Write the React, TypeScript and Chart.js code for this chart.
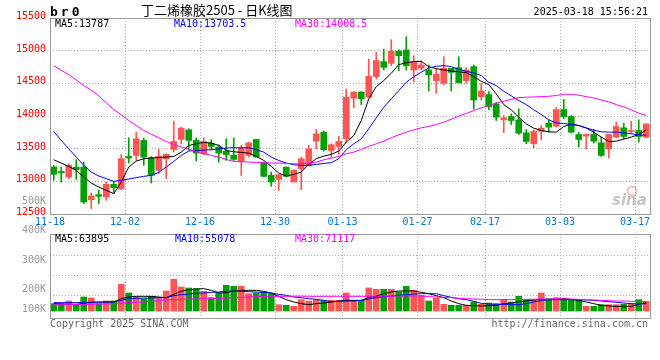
import React, { useEffect, useRef } from 'react';
import { Chart, registerables } from 'chart.js';

Chart.register(...registerables);

const dates = [
  '11-18','11-19','11-20','11-21','11-22','11-25','11-26','11-27','11-28','11-29',
  '12-02','12-03','12-04','12-05','12-06','12-09','12-10','12-11','12-12','12-13',
  '12-16','12-17','12-18','12-19','12-20','12-23','12-24','12-25','12-26','12-27',
  '12-30','12-31','01-02','01-03','01-06','01-07','01-08','01-09','01-10',
  '01-13','01-14','01-15','01-16','01-17','01-20','01-21','01-22','01-23','01-24',
  '01-27','02-05','02-06','02-07','02-10','02-11','02-12','02-13','02-14',
  '02-17','02-18','02-19','02-20','02-21','02-24','02-25','02-26','02-27','02-28',
  '03-03','03-04','03-05','03-06','03-07','03-10','03-11','03-12','03-13','03-14',
  '03-17','03-18'
];

const xTickLabels = ['11-18','12-02','12-16','12-30','01-13','01-27','02-17','03-03','03-17'];

const opens = [
  13219,13150,13066,13218,13218,12720,12796,12760,12954,12888,
  13381,13397,13626,13361,13168,13346,13488,13641,13788,13626,
  13422,13585,13524,13463,13397,13305,13397,13641,13280,13091,
  13030,13218,12990,13193,13244,13615,13753,13473,13534,13651,
  14272,14364,14287,14603,14832,14806,14995,15010,14704,14730,
  14704,14540,14500,14730,14740,14540,14755,14296,14328,14185,
  13941,13992,13941,13743,13575,13763,13890,13844,14099,13992,
  13717,13692,13717,13590,13498,13676,13819,13763,13778,13676
];
const highs = [
  13244,13218,13270,13330,13295,12822,12862,12990,12990,13412,
  13666,13753,13661,13381,13488,13422,13921,13829,13804,13666,
  13666,13636,13560,13651,13666,13550,13590,13641,13295,13142,
  13101,13218,13178,13371,13550,13794,13768,13575,13687,14414,
  14374,14374,14872,14974,15025,15168,15015,15214,14923,14842,
  14780,14730,14908,14730,14908,14740,14781,14500,14374,14211,
  14007,14033,14109,13794,13789,13855,13941,14134,14252,14007,
  13753,13727,13794,13676,13717,13905,13890,13921,13941,13880
];
const lows = [
  13015,12990,13040,13030,12659,12582,12659,12710,12812,12872,
  13280,13320,13244,12974,13117,13040,13448,13575,13473,13310,
  13412,13483,13295,13320,13320,13091,13371,13371,13066,12923,
  12862,13066,12990,12872,13244,13498,13463,13371,13412,13600,
  14124,14175,14287,14567,14705,14771,14694,14704,14525,14704,
  14383,14347,14474,14383,14510,14500,14107,14245,14094,13931,
  13743,13870,13717,13575,13509,13636,13753,13829,13956,13738,
  13524,13498,13585,13381,13356,13666,13651,13738,13600,13666
];
const closes = [
  13107,13130,13244,13178,12684,12776,12771,12954,12903,13346,
  13356,13651,13371,13091,13381,13412,13610,13814,13626,13432,
  13610,13534,13432,13407,13336,13514,13590,13371,13076,12990,
  13101,13076,13168,13346,13498,13727,13483,13560,13610,14287,
  14364,14262,14608,14847,14745,14989,14923,14770,14831,14780,
  14628,14638,14730,14668,14510,14704,14245,14383,14145,13982,
  13972,13931,13738,13610,13763,13814,13829,14099,13992,13753,
  13641,13717,13615,13397,13717,13839,13687,13778,13687,13880
];

const ma5 = [
  13330,13280,13229,13168,13066,12974,12913,12862,12811,12990,
  13219,13310,13346,13356,13366,13371,13381,13447,13549,13575,
  13595,13585,13549,13473,13453,13442,13432,13381,13320,13229,
  13127,13081,13107,13142,13259,13346,13386,13412,13463,13600,
  13702,13931,14262,14450,14542,14654,14786,14816,14832,14837,
  14755,14725,14704,14689,14674,14664,14603,14531,14481,14338,
  14175,14094,13982,13880,13814,13778,13758,13753,13839,13875,
  13855,13814,13753,13677,13610,13615,13646,13677,13717,13787
];
const ma10 = [
  13763,13626,13498,13371,13244,13142,13081,13040,13000,13015,
  13035,13056,13076,13091,13137,13219,13305,13397,13463,13473,
  13478,13483,13498,13509,13514,13514,13514,13483,13447,13371,
  13320,13280,13254,13244,13244,13259,13274,13285,13346,13483,
  13575,13651,13804,13972,14134,14262,14389,14516,14603,14669,
  14735,14761,14771,14755,14715,14684,14659,14618,14516,14465,
  14379,14308,14236,14175,14094,14023,13941,13895,13885,13870,
  13855,13819,13783,13758,13753,13753,13743,13727,13712,13703.5
];
const ma30 = [
  14771,14699,14633,14552,14465,14394,14308,14201,14099,14017,
  13931,13855,13778,13722,13666,13610,13565,13524,13493,13453,
  13422,13397,13371,13336,13305,13300,13295,13290,13285,13280,
  13280,13274,13269,13269,13280,13295,13330,13356,13381,13422,
  13447,13488,13534,13575,13615,13666,13712,13753,13788,13819,
  13839,13870,13905,13951,13997,14038,14084,14124,14160,14196,
  14226,14257,14282,14287,14292,14297,14302,14313,14333,14333,
  14318,14297,14277,14246,14216,14175,14140,14094,14043,14008.5
];

const volumes = [
  55000,55000,75000,47500,105000,97500,55000,75000,75000,200000,
  135000,105000,92500,110000,100000,150000,237500,180000,172500,167500,
  147500,100000,135000,192500,185000,185000,130000,135000,142500,130000,
  47500,42500,35000,85000,75000,85000,80000,80000,80000,135000,
  80000,80000,172500,162500,162500,162500,142500,185000,155000,117500,
  75000,97500,50000,42500,42500,42500,67500,50000,60000,55000,
  85000,67500,110000,85000,85000,135000,92500,100000,92500,85000,
  85000,35000,35000,47500,47500,47500,50000,55000,85000,72500
];
const volMa5 = [
  55000,52500,50000,50000,57500,65000,67500,67500,67500,92500,
  105000,110000,110000,110000,105000,100000,125000,147500,160000,165000,
  167500,155000,135000,137500,150000,155000,155000,155000,147500,135000,
  110000,85000,67500,55000,47500,55000,60000,67500,75000,80000,
  80000,80000,100000,110000,130000,142500,150000,150000,150000,140000,
  130000,115000,100000,75000,55000,42500,40000,37500,40000,42500,
  55000,60000,70000,75000,82500,85000,85000,87500,92500,85000,
  80000,67500,55000,42500,37500,35000,35000,35000,50000,63895
];
const volMa10 = [
  62500,62500,62500,62500,65000,65000,65000,67500,67500,80000,
  92500,95000,97500,97500,100000,100000,115000,122500,127500,132500,
  135000,140000,142500,147500,150000,147500,145000,142500,140000,135000,
  125000,117500,105000,100000,92500,87500,80000,70000,72500,75000,
  75000,80000,90000,100000,107500,112500,117500,122500,127500,130000,
  130000,130000,115000,102500,92500,85000,72500,57500,52500,50000,
  50000,47500,47500,55000,67500,77500,85000,85000,85000,85000,
  85000,82500,80000,75000,70000,65000,60000,55000,52500,55078
];
const volMa30 = [
  47500,47500,47500,50000,50000,50000,52500,52500,55000,60000,
  62500,65000,67500,72500,77500,82500,85000,87500,90000,90000,
  92500,92500,95000,97500,100000,102500,105000,107500,110000,110000,
  110000,110000,111000,111000,110000,110000,110000,110000,110500,110500,
  110000,110000,110500,111000,111500,112000,112500,113000,113000,112500,
  107500,105000,102500,100000,95000,92500,90000,87500,85000,85000,
  85000,85000,87500,87500,87500,90000,90000,92500,92500,90000,
  87500,85000,82500,80000,77500,75000,75000,72500,72500,71117
];

const priceLegend = ['MA5:13787', 'MA10:13703.5', 'MA30:14008.5'];
const volumeLegend = ['MA5:63895', 'MA10:55078', 'MA30:71117'];
const volumeTickLabels = ['500K', '400K', '300K', '200K', '100K'];
const titleText = '丁二烯橡胶2505 - 日K线图';
const symbolText = 'br0';
const timeText = '2025-03-18 15:56:21';

const RED = '#FF5555';
const GREEN = '#00A000';
const GRID = '#AAAAAA';
const FRAME = '#999999';
const MONO = '"DejaVu Sans Mono", monospace';
const LEGEND_COLORS = ['#000000', '#0000FF', '#FF00FF'];

const candleColors = closes.map((c, i) => (c >= opens[i] ? RED : GREEN));
const xGridColor = (ctx: any) =>
  ctx.index < dates.length && xTickLabels.includes(dates[ctx.index]) ? GRID : 'rgba(0,0,0,0)';

const framePlugin = {
  id: 'frame',
  afterDraw(chart: any) {
    const { ctx, chartArea: a } = chart;
    ctx.save();
    ctx.strokeStyle = FRAME;
    ctx.lineWidth = 1;
    ctx.strokeRect(Math.round(a.left) + 0.5, Math.round(a.top) + 0.5,
      Math.round(a.right - a.left), Math.round(a.bottom - a.top));
    ctx.restore();
  },
};

const mainTextPlugin = {
  id: 'mainText',
  afterDraw(chart: any) {
    const ctx = chart.ctx;
    ctx.save();
    ctx.textBaseline = 'alphabetic';
    ctx.textAlign = 'left';
    ctx.fillStyle = '#000';
    ctx.font = 'bold 13px ' + MONO;
    (ctx as any).letterSpacing = '3px';
    ctx.fillText(symbolText, 50, 16);
    (ctx as any).letterSpacing = '0px';
    ctx.font = '13px "Noto Sans CJK SC"';
    ctx.fillText(titleText, 141, 15);
    ctx.font = '10px ' + MONO;
    ctx.textAlign = 'right';
    ctx.fillText(timeText, 648, 15);
    ctx.textAlign = 'left';
    const xs = [55, 174, 295];
    priceLegend.forEach((t, i) => {
      ctx.fillStyle = LEGEND_COLORS[i];
      ctx.fillText(t, xs[i], 27);
    });
    // sina watermark
    ctx.font = 'italic bold 15px "DejaVu Sans"';
    ctx.fillStyle = 'rgba(150,150,150,0.55)';
    ctx.fillText('sina', 612, 205);
    ctx.strokeStyle = 'rgba(240,110,110,0.45)';
    ctx.lineWidth = 2;
    ctx.beginPath();
    ctx.arc(632, 191, 4.5, 0, Math.PI * 2);
    ctx.stroke();
    ctx.restore();
  },
};

const volTextPlugin = {
  id: 'volText',
  afterDraw(chart: any) {
    const ctx = chart.ctx;
    ctx.save();
    ctx.font = '10px ' + MONO;
    ctx.textAlign = 'right';
    ctx.textBaseline = 'middle';
    ctx.fillStyle = '#999999';
    const ys = [201, 230, 260.5, 289.5, 309.5];
    volumeTickLabels.forEach((t, i) => ctx.fillText(t, 46, ys[i]));
    ctx.textAlign = 'left';
    ctx.textBaseline = 'alphabetic';
    const xs = [55, 175, 295];
    volumeLegend.forEach((t, i) => {
      ctx.fillStyle = LEGEND_COLORS[i];
      ctx.fillText(t, xs[i], 242);
    });
    ctx.fillStyle = '#666666';
    ctx.fillText('Copyright 2025 SINA.COM', 50, 327);
    ctx.textAlign = 'right';
    ctx.fillText('http://finance.sina.com.cn', 648, 327);
    ctx.restore();
  },
};

const lineDs = (label: string, data: number[], color: string) => ({
  type: 'line' as const,
  label,
  data,
  borderColor: color,
  borderWidth: 1,
  pointRadius: 0,
  tension: 0,
  fill: false,
  order: 0,
});

export default function App() {
  const mainRef = useRef<HTMLCanvasElement>(null);
  const volRef = useRef<HTMLCanvasElement>(null);

  useEffect(() => {
    const main = new Chart(mainRef.current as HTMLCanvasElement, {
      type: 'bar',
      data: {
        labels: dates,
        datasets: [
          {
            type: 'bar',
            label: 'wick',
            data: lows.map((l, i) => [l, highs[i]]) as any,
            backgroundColor: candleColors,
            barThickness: 1,
            grouped: false,
            order: 2,
          },
          {
            type: 'bar',
            label: 'body',
            data: opens.map((o, i) => [o, closes[i]]) as any,
            backgroundColor: candleColors,
            barThickness: 6,
            minBarLength: 1,
            grouped: false,
            order: 1,
          },
          lineDs('MA30', ma30, '#FF00FF'),
          lineDs('MA10', ma10, '#0000FF'),
          lineDs('MA5', ma5, '#000000'),
        ] as any,
      },
      options: {
        animation: false,
        responsive: false,
        devicePixelRatio: 1,
        layout: { padding: { top: 18, right: 10, bottom: 130, left: 0 } },
        plugins: { legend: { display: false }, tooltip: { enabled: false } },
        scales: {
          x: {
            type: 'category',
            offset: true,
            grid: { offset: true, drawTicks: false, color: xGridColor, lineWidth: 1 },
            border: { display: false, dash: [1, 2] },
            ticks: {
              autoSkip: false,
              maxRotation: 0,
              minRotation: 0,
              padding: 2,
              labelOffset: -3.75,
              color: '#0078D0',
              font: { family: MONO, size: 10 },
              callback: (_v: any, i: number) => (xTickLabels.includes(dates[i]) ? dates[i] : ''),
            },
            afterFit: (s: any) => { s.height = 16; },
          },
          y: {
            min: 12500,
            max: 15500,
            ticks: {
              stepSize: 500,
              color: '#FF0000',
              padding: 4,
              labelOffset: -1.5,
              font: { family: MONO, size: 10 },
              callback: (v: any) => String(v),
            },
            grid: { color: GRID, drawTicks: false, lineWidth: 1 },
            border: { display: false, dash: [1, 2] },
            afterFit: (s: any) => { s.width = 50; },
          },
        },
      } as any,
      plugins: [framePlugin, mainTextPlugin],
    });

    const vol = new Chart(volRef.current as HTMLCanvasElement, {
      type: 'bar',
      data: {
        labels: dates,
        datasets: [
          {
            type: 'bar',
            label: 'volume',
            data: volumes,
            backgroundColor: candleColors,
            barThickness: 6,
            order: 1,
          },
          lineDs('MA30', volMa30, '#FF00FF'),
          lineDs('MA10', volMa10, '#0000FF'),
          lineDs('MA5', volMa5, '#000000'),
        ] as any,
      },
      options: {
        animation: false,
        responsive: false,
        devicePixelRatio: 1,
        layout: { padding: { top: 234, right: 10, bottom: 42, left: 0 } },
        plugins: { legend: { display: false }, tooltip: { enabled: false } },
        scales: {
          x: {
            type: 'category',
            offset: true,
            grid: { offset: true, drawTicks: false, color: xGridColor, lineWidth: 1 },
            border: { display: false, dash: [1, 2] },
            ticks: { display: false },
            afterFit: (s: any) => { s.height = 0; },
          },
          y: {
            min: -52500,
            max: 577500,
            ticks: { display: false },
            grid: { color: GRID, drawTicks: false, lineWidth: 1 },
            border: { display: false, dash: [1, 2] },
            afterBuildTicks: (s: any) => {
              s.ticks = [120000, 270000, 420000].map((v) => ({ value: v }));
            },
            afterFit: (s: any) => { s.width = 50; },
          },
        },
      } as any,
      plugins: [framePlugin, volTextPlugin],
    });

    return () => {
      main.destroy();
      vol.destroy();
    };
  }, []);

  return (
    <div style={{ position: 'fixed', left: 0, top: 0, width: 660, height: 360, background: '#ffffff' }}>
      <canvas ref={mainRef} width={660} height={360} style={{ position: 'absolute', left: 0, top: 0 }} />
      <canvas ref={volRef} width={660} height={360} style={{ position: 'absolute', left: 0, top: 0 }} />
    </div>
  );
}
